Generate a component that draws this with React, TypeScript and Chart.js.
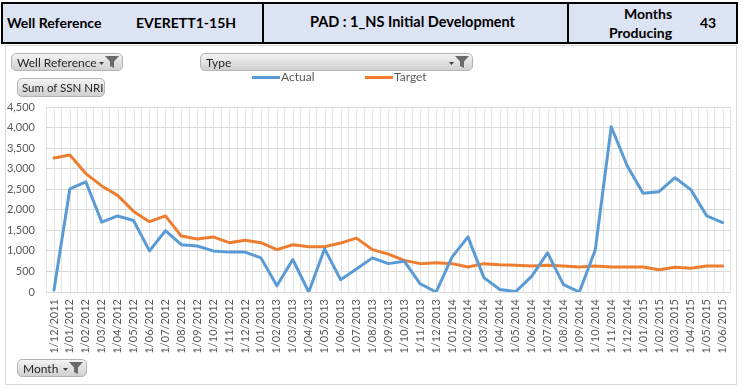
import React, { useEffect, useRef } from "react";
import { Chart, registerables } from "chart.js";

Chart.register(...registerables);

const months: string[] = [
  "1/12/2011",
  "1/01/2012", "1/02/2012", "1/03/2012", "1/04/2012", "1/05/2012", "1/06/2012",
  "1/07/2012", "1/08/2012", "1/09/2012", "1/10/2012", "1/11/2012", "1/12/2012",
  "1/01/2013", "1/02/2013", "1/03/2013", "1/04/2013", "1/05/2013", "1/06/2013",
  "1/07/2013", "1/08/2013", "1/09/2013", "1/10/2013", "1/11/2013", "1/12/2013",
  "1/01/2014", "1/02/2014", "1/03/2014", "1/04/2014", "1/05/2014", "1/06/2014",
  "1/07/2014", "1/08/2014", "1/09/2014", "1/10/2014", "1/11/2014", "1/12/2014",
  "1/01/2015", "1/02/2015", "1/03/2015", "1/04/2015", "1/05/2015", "1/06/2015",
];

const actual: number[] = [
  50, 2510, 2680, 1700, 1850, 1740, 1000, 1490, 1150, 1120, 1000, 970, 970,
  830, 150, 790, 0, 1050, 300, 560, 830, 690, 750, 200, 0,
  850, 1340, 350, 60, 10, 380, 950, 180, 0, 1030, 4020, 3070,
  2400, 2440, 2780, 2490, 1850, 1690,
];

const target: number[] = [
  3260, 3330, 2880, 2580, 2350, 1960, 1710, 1850, 1360, 1290, 1340, 1200, 1260,
  1200, 1030, 1150, 1100, 1100, 1190, 1310, 1030, 920, 770, 690, 710,
  690, 610, 690, 660, 650, 630, 650, 630, 610, 630, 610, 610,
  610, 540, 600, 580, 630, 630,
];

const yMin = 0;
const yMax = 4500;
const yStep = 500;

const BLUE = "#5b9bd5";
const ORANGE = "#ed7d31";
const FONT = "Lato, 'Open Sans', sans-serif";

const centerLines = {
  id: "centerLines",
  beforeDatasetsDraw(chart: any) {
    const { ctx, chartArea, scales } = chart;
    const x = scales.x;
    ctx.save();
    ctx.strokeStyle = "#e4e4e4";
    ctx.lineWidth = 1;
    for (let i = 0; i < months.length; i++) {
      const px = Math.round(x.getPixelForValue(i)) + 0.5;
      ctx.beginPath();
      ctx.moveTo(px, chartArea.top);
      ctx.lineTo(px, chartArea.bottom);
      ctx.stroke();
    }
    ctx.restore();
  },
};

const Funnel = () => (
  <svg width="20" height="14" viewBox="0 0 20 14" style={{ display: "block" }}>
    <polygon points="0,7 5,7 2.5,10" fill="#404040" />
    <polygon points="6,1 20,1 15,6.5 15,13 11,11 11,6.5" fill="#6a6a6a" />
  </svg>
);

const btn: React.CSSProperties = {
  position: "absolute",
  boxSizing: "border-box",
  background: "linear-gradient(#f4f4f4, #cfcfcf)",
  border: "1px solid #b4b4b4",
  borderRadius: 5,
  fontFamily: FONT,
  fontSize: 12,
  color: "#262626",
  display: "flex",
  alignItems: "center",
  paddingLeft: 5,
  paddingRight: 3,
  whiteSpace: "nowrap",
};

const hdrText: React.CSSProperties = {
  position: "absolute",
  fontFamily: FONT,
  fontWeight: 700,
  fontSize: 14,
  color: "#000",
  whiteSpace: "nowrap",
};

export default function App() {
  const canvasRef = useRef<HTMLCanvasElement | null>(null);

  useEffect(() => {
    document.body.style.margin = "0";
    const canvas = canvasRef.current;
    if (!canvas) return;
    const chart = new Chart(canvas, {
      type: "line",
      data: {
        labels: months,
        datasets: [
          {
            label: "Actual",
            data: actual,
            borderColor: BLUE,
            backgroundColor: BLUE,
            borderWidth: 3,
            pointRadius: 0,
            tension: 0,
            borderJoinStyle: "round",
            borderCapStyle: "round",
          },
          {
            label: "Target",
            data: target,
            borderColor: ORANGE,
            backgroundColor: ORANGE,
            borderWidth: 3,
            pointRadius: 0,
            tension: 0,
            borderJoinStyle: "round",
            borderCapStyle: "round",
          },
        ],
      },
      options: {
        animation: false,
        responsive: false,
        devicePixelRatio: 1,
        layout: { padding: { top: 107, right: 10, left: 0, bottom: 0 } },
        plugins: {
          legend: { display: false },
          tooltip: { enabled: false },
        },
        scales: {
          x: {
            type: "category",
            offset: true,
            grid: { color: "#e4e4e4", drawTicks: false, offset: true },
            border: { color: "#d9d9d9" },
            ticks: {
              autoSkip: false,
              minRotation: 90,
              maxRotation: 90,
              padding: 7,
              color: "#595959",
              font: { family: FONT, size: 11 },
            },
            afterFit: (s: any) => {
              s.height = 97;
            },
          },
          y: {
            min: yMin,
            max: yMax,
            ticks: {
              stepSize: yStep,
              padding: 11,
              color: "#595959",
              font: { family: FONT, size: 11 },
              callback: (v: any) => Number(v).toLocaleString("en-US"),
            },
            grid: { color: "#d9d9d9", drawTicks: false },
            border: { display: false },
            afterFit: (s: any) => {
              s.width = 46;
            },
          },
        },
      },
      plugins: [centerLines],
    });
    return () => chart.destroy();
  }, []);

  return (
    <div style={{ position: "absolute", left: 0, top: 0, width: 743, height: 389, background: "#fff", overflow: "hidden" }}>
      {/* chart frame */}
      <div style={{ position: "absolute", left: 5, top: 45, width: 732, height: 340, border: "1px solid #d9d9d9", boxSizing: "border-box" }} />
      <canvas ref={canvasRef} width={743} height={389} style={{ position: "absolute", left: 0, top: 0, width: 743, height: 389 }} />

      {/* header */}
      <div style={{ position: "absolute", left: 1, top: 2, width: 737, height: 42, background: "#dce3f3", border: "2px solid #000", boxSizing: "border-box" }} />
      <div style={{ position: "absolute", left: 262, top: 2, width: 2, height: 42, background: "#000" }} />
      <div style={{ position: "absolute", left: 567, top: 2, width: 2, height: 42, background: "#000" }} />
      <div style={{ ...hdrText, left: 7, top: 14 }}>Well Reference</div>
      <div style={{ ...hdrText, left: 136, top: 14 }}>EVERETT1-15H</div>
      <div style={{ ...hdrText, left: 310, top: 13, fontSize: 14.5 }}>PAD : 1_NS Initial Development</div>
      <div style={{ ...hdrText, left: 624, top: 5 }}>Months</div>
      <div style={{ ...hdrText, left: 609, top: 24 }}>Producing</div>
      <div style={{ ...hdrText, left: 700, top: 14 }}>43</div>

      {/* field buttons */}
      <div style={{ ...btn, left: 11, top: 53, width: 112, height: 18 }}>
        <span style={{ flex: 1 }}>Well Reference</span>
        <Funnel />
      </div>
      <div style={{ ...btn, left: 200, top: 53, width: 273, height: 18 }}>
        <span style={{ flex: 1 }}>Type</span>
        <Funnel />
      </div>
      <div style={{ ...btn, left: 17, top: 78, width: 88, height: 19, paddingLeft: 4, paddingRight: 2, fontSize: 11.5 }}>
        <span>Sum of SSN NRI</span>
      </div>
      <div style={{ ...btn, left: 17, top: 359, width: 70, height: 18 }}>
        <span style={{ flex: 1 }}>Month</span>
        <Funnel />
      </div>

      {/* legend */}
      <div style={{ position: "absolute", left: 252, top: 76, width: 28, height: 3, background: BLUE }} />
      <div style={{ position: "absolute", left: 281, top: 69, fontFamily: FONT, fontSize: 12, color: "#595959" }}>Actual</div>
      <div style={{ position: "absolute", left: 365, top: 76, width: 28, height: 3, background: ORANGE }} />
      <div style={{ position: "absolute", left: 394, top: 69, fontFamily: FONT, fontSize: 12, color: "#595959" }}>Target</div>
    </div>
  );
}
